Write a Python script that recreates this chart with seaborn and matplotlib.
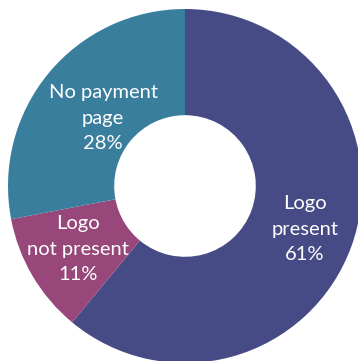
import matplotlib
matplotlib.use("Agg")
import matplotlib.pyplot as plt
import numpy as np
import seaborn as sns

categories = ["Logo present", "Logo not present", "No payment page"]
label_lines = ["Logo\npresent", "Logo\nnot present", "No payment\npage"]
shares = [61, 11, 28]
slice_colors = ["#464B85", "#974779", "#3A7E9E"]
label_radius = [0.72, 0.70, 0.60]

sns.set_style("white")
plt.rcParams["font.family"] = ["Lato", "DejaVu Sans"]

fig = plt.figure(figsize=(3.58, 3.61), dpi=100)
ax = fig.add_axes([0, 0, 1, 1])
palette = sns.color_palette(slice_colors)

texts = iter(label_lines)
wedges, _, autotexts = ax.pie(
    shares,
    colors=palette,
    startangle=90,
    counterclock=False,
    radius=1.0,
    wedgeprops=dict(width=0.6, edgecolor="none"),
    autopct=lambda p: f"{next(texts)}\n{p:.0f}%",
    pctdistance=0.69,
    textprops=dict(color="white", fontsize=14.5, linespacing=1.62,
                   ha="center", va="center"),
)

# place each label along its wedge's bisector
for w, t, r in zip(wedges, autotexts, label_radius):
    mid = np.deg2rad((w.theta1 + w.theta2) / 2)
    t.set_position((r * np.cos(mid), r * np.sin(mid)))

scale = 177.0
ax.set_xlim(-185 / scale, (358 - 185) / scale)
ax.set_ylim(-175 / scale, (361 - 175) / scale)
ax.set_aspect("auto")
ax.axis("off")

fig.savefig("out.png", dpi=100)
